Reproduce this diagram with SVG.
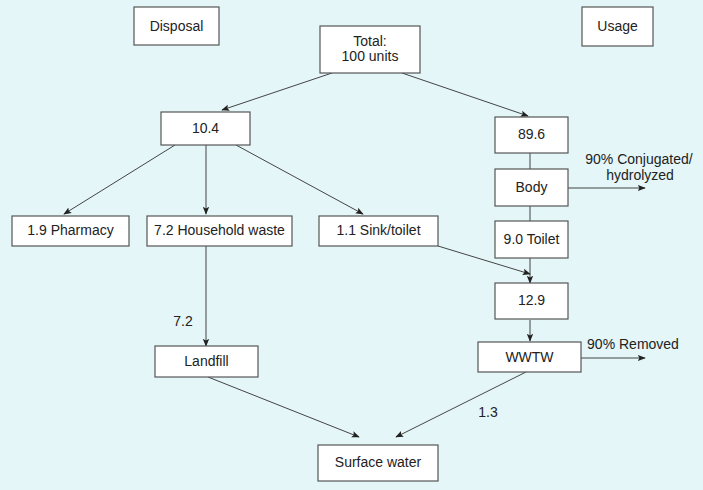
<svg xmlns="http://www.w3.org/2000/svg" width="703" height="490" viewBox="0 0 703 490">
<style>
.b{fill:#fff;stroke:#555;stroke-width:1.2}
.t{font-family:"Liberation Sans",Arial,sans-serif;font-size:14px;fill:#222;text-anchor:middle}
.l{stroke:#444;stroke-width:1;fill:none}
.a{stroke:#444;stroke-width:1;fill:none;marker-end:url(#ah)}
</style>
<defs><marker id="ah" viewBox="0 0 10 10" refX="9" refY="5" markerWidth="8" markerHeight="8" orient="auto" markerUnits="userSpaceOnUse"><path d="M0,1 L10,5 L0,9 L2,5 z" fill="#222"/></marker></defs>
<rect width="703" height="490" fill="#e4f6f8"/>
<g id="connectors">
<line class="a" x1="332" y1="73" x2="222" y2="110"/>
<line class="a" x1="402" y1="73" x2="528" y2="116"/>
<line class="a" x1="175" y1="145" x2="64" y2="214"/>
<line class="a" x1="206" y1="145" x2="206" y2="214"/>
<line class="a" x1="236" y1="145" x2="363" y2="214"/>
<line class="l" x1="530" y1="153" x2="530" y2="169"/>
<line class="l" x1="530" y1="206" x2="530" y2="221"/>
<line class="a" x1="530" y1="258" x2="530" y2="283"/>
<line class="a" x1="438" y1="246" x2="530" y2="274"/>
<line class="a" x1="568" y1="188" x2="645" y2="188"/>
<line class="a" x1="530" y1="320" x2="530" y2="341"/>
<line class="a" x1="581" y1="358" x2="645" y2="358"/>
<line class="a" x1="206" y1="246" x2="206" y2="346"/>
<line class="a" x1="208" y1="377" x2="359" y2="437"/>
<line class="a" x1="526" y1="372" x2="396" y2="437"/>
<text class="t" x="183" y="326">7.2</text>
<text class="t" x="488" y="417">1.3</text>
<text class="t" x="639" y="164">90% Conjugated/</text>
<text class="t" x="640" y="180">hydrolyzed</text>
<text class="t" x="633" y="349">90% Removed</text>
</g>
<g id="disposal"><rect class="b" x="134" y="7" width="85" height="38"/><text class="t" x="176.5" y="31">Disposal</text></g>
<g id="usage"><rect class="b" x="582" y="7" width="71" height="39"/><text class="t" x="617.5" y="31">Usage</text></g>
<g id="total"><rect class="b" x="320" y="26" width="100" height="47"/><text class="t" x="370" y="46">Total:</text><text class="t" x="370" y="61">100 units</text></g>
<g id="n104"><rect class="b" x="161" y="112" width="89" height="33"/><text class="t" x="205.5" y="133">10.4</text></g>
<g id="n896"><rect class="b" x="495" y="117" width="73" height="36"/><text class="t" x="531.5" y="139">89.6</text></g>
<g id="body"><rect class="b" x="495" y="169" width="73" height="37"/><text class="t" x="531.5" y="192">Body</text></g>
<g id="toilet"><rect class="b" x="495" y="221" width="73" height="37"/><text class="t" x="531.5" y="244">9.0 Toilet</text></g>
<g id="n129"><rect class="b" x="495" y="283" width="73" height="36"/><text class="t" x="531.5" y="305">12.9</text></g>
<g id="wwtw"><rect class="b" x="478" y="342" width="103" height="30"/><text class="t" x="529.5" y="362">WWTW</text></g>
<g id="landfill"><rect class="b" x="155" y="346" width="103" height="31"/><text class="t" x="206.5" y="366">Landfill</text></g>
<g id="surface"><rect class="b" x="318" y="445" width="120" height="36"/><text class="t" x="378" y="467">Surface water</text></g>
<g id="pharmacy"><rect class="b" x="12" y="216" width="117" height="30"/><text class="t" x="70.5" y="235">1.9 Pharmacy</text></g>
<g id="household"><rect class="b" x="147" y="216" width="145" height="30"/><text class="t" x="219.5" y="235">7.2 Household waste</text></g>
<g id="sink"><rect class="b" x="319" y="216" width="119" height="30"/><text class="t" x="378.5" y="235">1.1 Sink/toilet</text></g>
</svg>
